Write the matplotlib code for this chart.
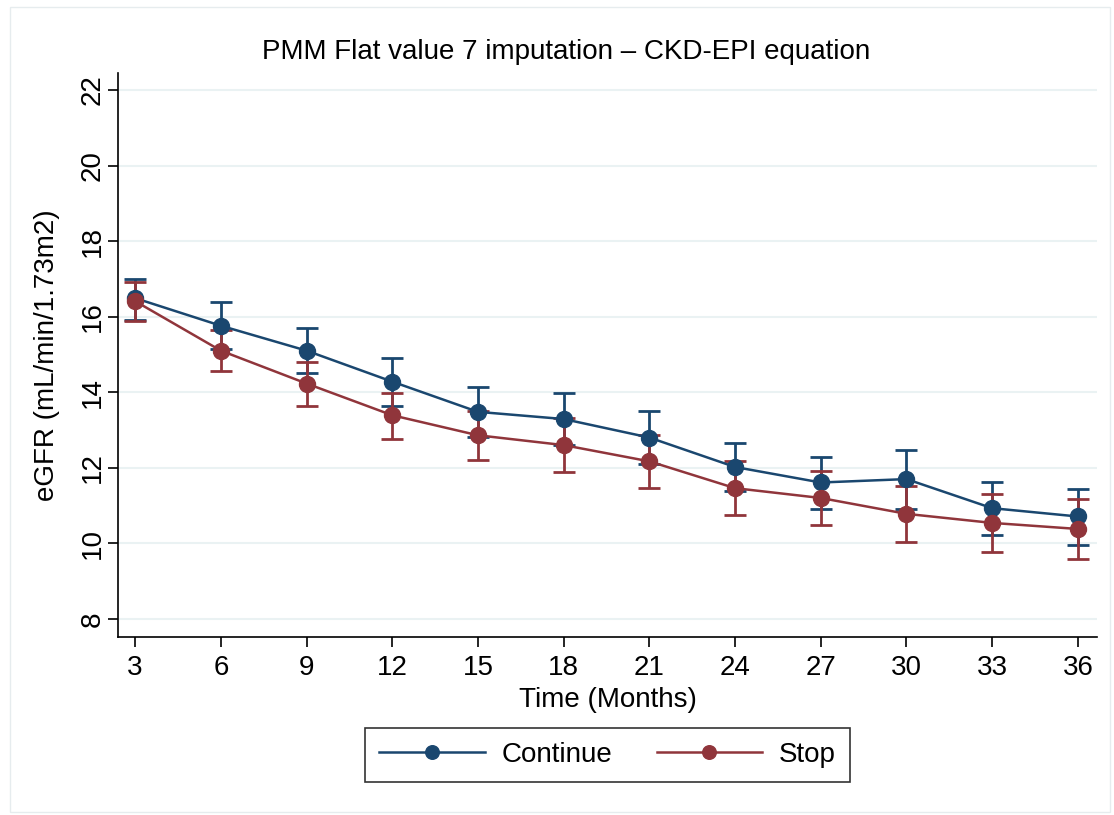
import matplotlib.pyplot as plt
from matplotlib.patches import Rectangle

plt.rcParams['font.family'] = ['Liberation Sans', 'DejaVu Sans']

months = [3, 6, 9, 12, 15, 18, 21, 24, 27, 30, 33, 36]

continue_mean = [16.49, 15.76, 15.10, 14.28, 13.48, 13.29, 12.80, 12.02, 11.61, 11.70, 10.93, 10.71]
continue_lo = [15.92, 15.14, 14.50, 13.63, 12.82, 12.61, 12.11, 11.38, 10.92, 10.92, 10.21, 9.95]
continue_hi = [17.00, 16.38, 15.69, 14.90, 14.14, 13.97, 13.49, 12.66, 12.29, 12.46, 11.62, 11.44]

stop_mean = [16.41, 15.10, 14.23, 13.39, 12.86, 12.60, 12.17, 11.46, 11.20, 10.78, 10.54, 10.38]
stop_lo = [15.89, 14.55, 13.64, 12.77, 12.21, 11.89, 11.46, 10.75, 10.48, 10.04, 9.76, 9.58]
stop_hi = [16.92, 15.65, 14.81, 13.99, 13.51, 13.31, 12.88, 12.17, 11.92, 11.51, 11.31, 11.18]

navy = '#1A476F'
maroon = '#90353B'

fig = plt.figure(figsize=(11.14, 8.15), dpi=100)
ax = fig.add_axes([118 / 1114, 1 - 637 / 815, (1097 - 118) / 1114, (637 - 73) / 815])

# outer graph region border
fig.patches.append(Rectangle((10 / 1114, 3 / 815), 1100 / 1114, 805 / 815,
                             transform=fig.transFigure, fill=False,
                             edgecolor='#E6ECEE', linewidth=1))

for mean, lo, hi, col, lab in [(continue_mean, continue_lo, continue_hi, navy, 'Continue'),
                               (stop_mean, stop_lo, stop_hi, maroon, 'Stop')]:
    err = [[m - l for m, l in zip(mean, lo)], [h - m for m, h in zip(mean, hi)]]
    ax.errorbar(months, mean, yerr=err, fmt='none', ecolor=col,
                elinewidth=2, capsize=8, capthick=2, zorder=3)
    ax.plot(months, mean, '-o', color=col, lw=1.8, markersize=11.5, label=lab, zorder=4)

ax.set_xlim(2.4, 36.67)
ax.set_ylim(7.52, 22.45)
ax.set_xticks(months)
ax.set_yticks(range(8, 23, 2))
ax.grid(axis='y', color='#EAF2F3', linewidth=1.5)
ax.set_axisbelow(True)
for s in ['top', 'right']:
    ax.spines[s].set_visible(False)
ax.spines['left'].set_linewidth(1.2)
ax.spines['bottom'].set_linewidth(1.2)
ax.tick_params(axis='both', labelsize=20, length=7, width=1.2)
ax.tick_params(axis='x', pad=6)
ax.tick_params(axis='y', pad=2)
for t in ax.get_yticklabels():
    t.set_rotation(90)
    t.set_va('center')

ax.set_xlabel('Time (Months)', fontsize=20, labelpad=4)
ax.set_ylabel('eGFR (mL/min/1.73m2)', fontsize=20, labelpad=14)
fig.text(566 / 1114, 1 - 52 / 815, 'PMM Flat value 7 imputation – CKD-EPI equation',
         fontsize=20, ha='center', va='center')

leg = ax.legend(loc='upper center', bbox_to_anchor=(0.5, -0.161), ncol=2, fontsize=20,
                frameon=True, fancybox=False, edgecolor='black', handlelength=3.8,
                columnspacing=1.6, borderpad=0.5, handletextpad=0.6, borderaxespad=0,
                markerscale=0.85)
leg.get_frame().set_linewidth(1.2)

fig.savefig('out.png', dpi=100)
